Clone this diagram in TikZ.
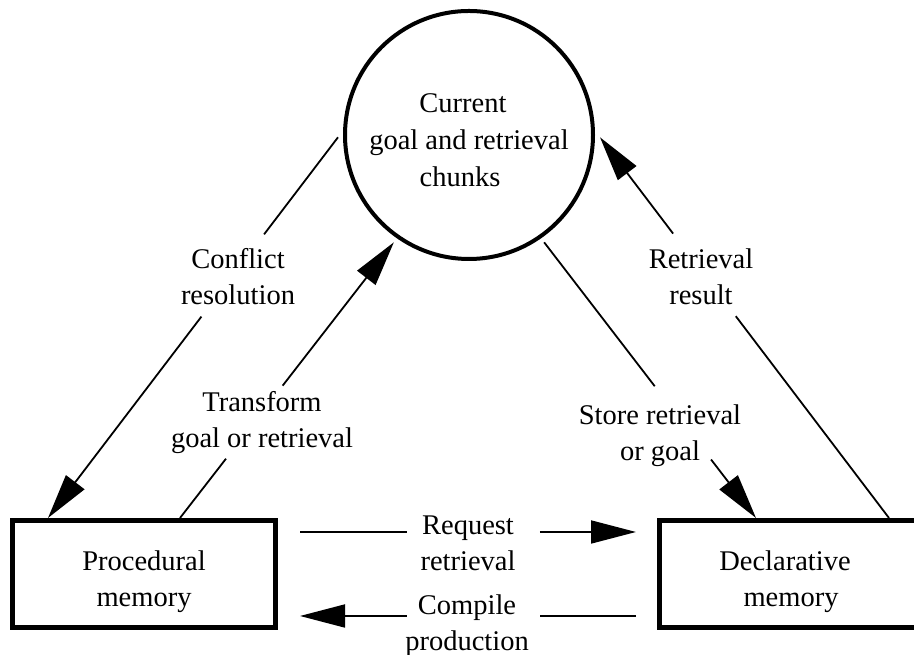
\documentclass[tikz,border=0pt]{standalone}
\usepackage{fontspec}
\setmainfont{Liberation Serif}
\usetikzlibrary{arrows.meta,calc}
\begin{document}
\begin{tikzpicture}[x=1pt,y=1pt,
  txt/.style={font=\fontsize{28.5}{36}\selectfont, align=center, inner sep=0pt},
  membox/.style={txt, draw, line width=5pt, minimum width=263pt, minimum height=107pt},
  goalcirc/.style={txt, font=\fontsize{28.5}{37}\selectfont, draw, circle, line width=4pt, minimum size=248pt, outer sep=7pt},
  conn/.style={line width=1.8pt},
  arr/.style={conn, -{Triangle[length=45pt,width=23pt]}},
  lab/.style={txt}]
\useasboundingbox (0,0) rectangle (914,655);
\node[goalcirc] (circ) at (469,520) {\rule{0pt}{30pt}Current\hspace*{12pt}\\goal and retrieval\\chunks\hspace*{18pt}};
\node[membox] (proc) at (144,81) {\rule{0pt}{36pt}Procedural\\memory};
\node[membox] (decl) at (791,81) {\rule{0pt}{36pt}Declarative\hspace*{12pt}\\memory};

% Conflict resolution
\coordinate (cA) at (circ.181);
\coordinate (cB) at ([xshift=38pt]proc.north west);
\draw[conn] (cA) -- ($(cA)!0.255!(cB)$);
\draw[arr] ($(cA)!0.471!(cB)$) -- (cB);

% Transform goal or retrieval
\coordinate (tA) at ([xshift=170pt]proc.north west);
\coordinate (tB) at (circ.235);
\draw[conn] (tA) -- ($(tA)!0.215!(tB)$);
\draw[arr] ($(tA)!0.48!(tB)$) -- (tB);

% Store retrieval or goal
\coordinate (sA) at (circ.305);
\coordinate (sB) at ([xshift=99pt]decl.north west);
\draw[conn] (sA) -- ($(sA)!0.522!(sB)$);
\draw[arr] ($(sA)!0.788!(sB)$) -- (sB);

% Retrieval result
\coordinate (rA) at ([xshift=232pt]decl.north west);
\coordinate (rB) at (circ.359);
\draw[conn] (rA) -- ($(rA)!0.53!(rB)$);
\draw[arr] ($(rA)!0.747!(rB)$) -- (rB);

% Request retrieval
\coordinate (qA) at ($(proc.east)+(22,42)$);
\coordinate (qB) at ($(decl.west)+(-21,42)$);
\draw[conn] (qA) -- ($(qA)!0.318!(qB)$);
\draw[arr] ($(qA)!0.714!(qB)$) -- (qB);

% Compile production
\coordinate (pA) at ($(decl.west)+(-21,-42)$);
\coordinate (pB) at ($(proc.east)+(22,-42)$);
\draw[conn] (pA) -- ($(pA)!0.286!(pB)$);
\draw[arr] ($(pA)!0.682!(pB)$) -- (pB);

\node[lab] (lconf) at (238,378) {Conflict\\resolution};
\node[lab] (ltrans) at (262,232) {Transform\\goal or retrieval};
\node[lab] (lstore) at (660,219) {Store retrieval\\or goal};
\node[lab] (lret) at (701,378) {Retrieval\\result};
\node[lab] (lreq) at (468,112) {Request\\retrieval};
\node[lab] (lcomp) at (467,29.5) {Compile\\production};
\end{tikzpicture}
\end{document}
